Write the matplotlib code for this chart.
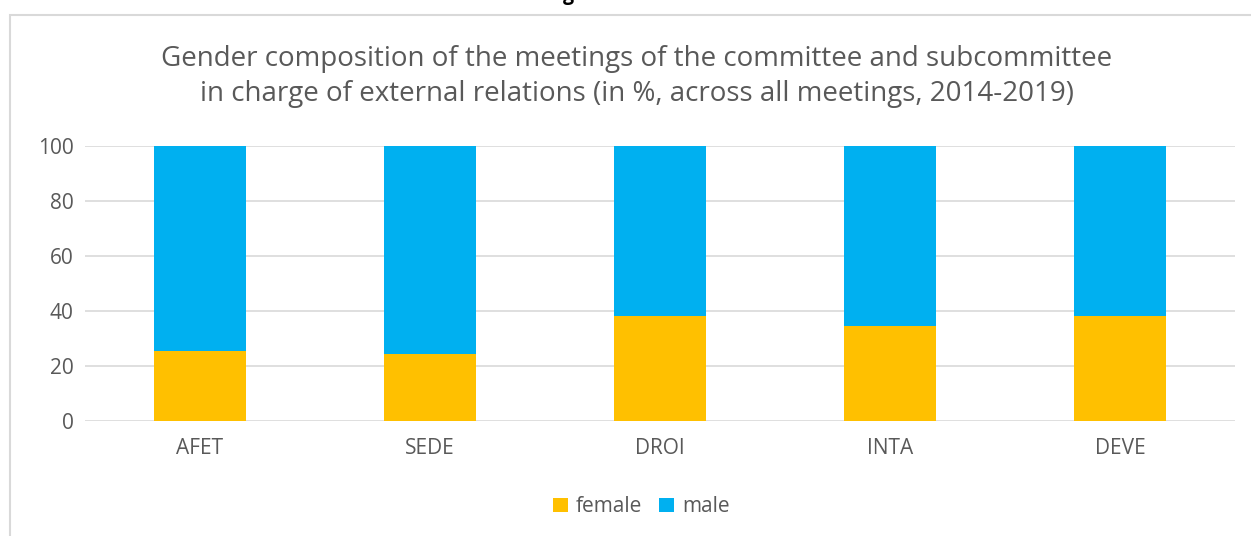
import matplotlib.pyplot as plt
from matplotlib.patches import Rectangle

committees = ['AFET', 'SEDE', 'DROI', 'INTA', 'DEVE']
female = [25.5, 24.5, 38, 34.5, 38]
male = [100 - f for f in female]

plt.rcParams['font.family'] = ['Open Sans', 'DejaVu Sans']
grey = '#595959'

fig = plt.figure(figsize=(12.51, 5.36), dpi=100)
ax = fig.add_axes([0.0679, 0.2146, 0.9193, 0.513])

x = list(range(len(committees)))
ax.bar(x, female, width=0.4, color='#ffc000', label='female', zorder=3)
ax.bar(x, male, bottom=female, width=0.4, color='#00b0f0', label='male', zorder=3)

ax.set_xlim(-0.5, len(committees) - 0.5)
ax.set_ylim(0, 100)
ax.set_yticks(range(0, 101, 20))
ax.set_xticks(x)
ax.set_xticklabels(committees)
ax.yaxis.grid(True, color='#d9d9d9', linewidth=1.2, zorder=0)
for s in ax.spines.values():
    s.set_visible(False)
ax.tick_params(length=0, labelsize=15, colors=grey, pad=8)
ax.tick_params(axis='x', pad=12)

fig.text(0.509, 0.857, 'Gender composition of the meetings of the committee and subcommittee\n'
         'in charge of external relations (in %, across all meetings, 2014-2019)',
         ha='center', va='center', fontsize=20, color=grey, linespacing=1.3)

ax.legend(loc='upper center', bbox_to_anchor=(0.484, -0.205), ncol=2, frameon=False,
          fontsize=15, labelcolor=grey, handlelength=0.7, handleheight=0.7,
          handletextpad=0.4, columnspacing=0.8)

# outer chart frame (cut off at right and bottom)
fig.patches.append(Rectangle((10 / 1251, -0.1), 1.2, 1 - 15 / 536 + 0.1,
                             transform=fig.transFigure, fill=False,
                             edgecolor='#d9d9d9', linewidth=1.5))
# descender of the heading above, cut off by the crop
fig.text(568 / 1251, 1.0, 'g', ha='center', va='baseline', fontsize=14,
         fontweight='bold', color='black')

fig.savefig('out.png', dpi=100)
